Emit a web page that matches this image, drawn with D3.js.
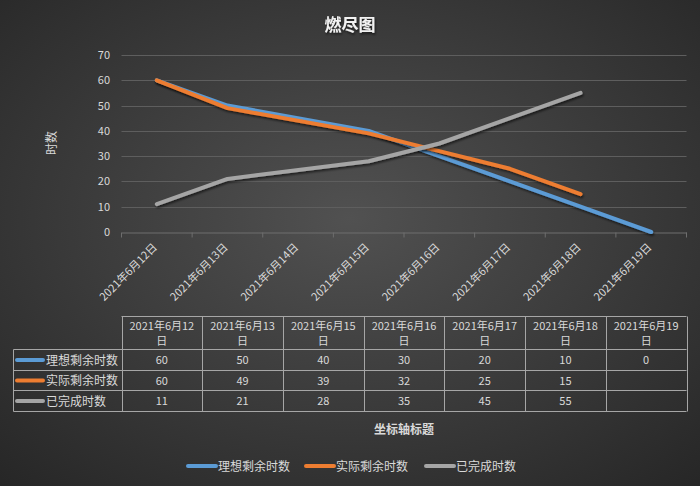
<!DOCTYPE html>
<html>
<head>
<meta charset="utf-8">
<script src="https://cdn.jsdelivr.net/npm/d3@7"></script>
<style>
  body { margin: 0; background: #2b2b2b; }
  svg text { font-family: "Noto Sans CJK SC", "Noto Sans", sans-serif; fill: #d9d9d9; }
</style>
</head>
<body>
<svg id="chart" width="700" height="486"></svg>
<script>
const axisDays = ["2021年6月12日", "2021年6月13日", "2021年6月14日", "2021年6月15日",
  "2021年6月16日", "2021年6月17日", "2021年6月18日", "2021年6月19日"];
const tableDays = ["2021年6月12日", "2021年6月13日", "2021年6月15日", "2021年6月16日",
  "2021年6月17日", "2021年6月18日", "2021年6月19日"];
const ideal = [60, 50, 40, 30, 20, 10, 0];
const actual = [60, 49, 39, 32, 25, 15, null];
const done = [11, 21, 28, 35, 45, 55, null];
const yTicks = [0, 10, 20, 30, 40, 50, 60, 70];

const seriesList = [
  { name: "理想剩余时数", values: ideal, color: "#5b9bd5" },
  { name: "实际剩余时数", values: actual, color: "#ed7d31" },
  { name: "已完成时数", values: done, color: "#a5a5a5" }
];

const PLOT = { left: 121.5, right: 686.5, top: 55, bottom: 232 };

const svg = d3.select("#chart");
const defs = svg.append("defs");

const grad = defs.append("radialGradient")
  .attr("id", "bg")
  .attr("cx", "50%").attr("cy", "45%").attr("r", "75%");
grad.append("stop").attr("offset", "0%").attr("stop-color", "#515151");
grad.append("stop").attr("offset", "100%").attr("stop-color", "#262626");

const shadow = defs.append("filter").attr("id", "shadow")
  .attr("x", "-10%").attr("y", "-10%").attr("width", "120%").attr("height", "130%");
shadow.append("feDropShadow")
  .attr("dx", 1).attr("dy", 2).attr("stdDeviation", 1.2)
  .attr("flood-color", "#000").attr("flood-opacity", 0.55);

svg.append("rect").attr("width", 700).attr("height", 486).attr("fill", "url(#bg)");

// title
svg.append("text")
  .attr("x", 350).attr("y", 31)
  .attr("text-anchor", "middle")
  .attr("font-size", 17).attr("font-weight", "bold")
  .style("fill", "#f2f2f2")
  .attr("filter", "url(#shadow)")
  .text("燃尽图");

const x = d3.scaleBand().domain(axisDays).range([PLOT.left, PLOT.right]);
const y = d3.scaleLinear().domain([0, 70]).range([PLOT.bottom, PLOT.top]);

// gridlines
svg.append("g").selectAll("line")
  .data(yTicks.filter(d => d > 0))
  .join("line")
  .attr("x1", PLOT.left).attr("x2", PLOT.right)
  .attr("y1", d => Math.round(y(d)) + 0.5).attr("y2", d => Math.round(y(d)) + 0.5)
  .attr("stroke", "#5e5e5e").attr("stroke-width", 1);

// y axis labels
svg.append("g").selectAll("text")
  .data(yTicks)
  .join("text")
  .attr("x", 110).attr("y", d => y(d) + 4)
  .attr("text-anchor", "end")
  .attr("font-size", 11)
  .text(d => d);

svg.append("text")
  .attr("transform", `translate(56,143) rotate(-90)`)
  .attr("text-anchor", "middle")
  .attr("font-size", 12)
  .text("时数");

// x axis
const xAxis = svg.append("g")
  .attr("transform", `translate(0,${Math.round(PLOT.bottom) + 0.5})`)
  .call(d3.axisBottom(x).tickSize(5).tickSizeOuter(0).tickFormat(""));
xAxis.select(".domain").attr("stroke", "#6e6e6e");
xAxis.selectAll(".tick line").remove();
xAxis.selectAll(".band-tick")
  .data(axisDays.concat(["end"]))
  .join("line")
  .attr("x1", (d, i) => i < axisDays.length ? x(d) : PLOT.right)
  .attr("x2", (d, i) => i < axisDays.length ? x(d) : PLOT.right)
  .attr("y1", 0).attr("y2", 5)
  .attr("stroke", "#6e6e6e");

svg.append("g").selectAll("text")
  .data(axisDays)
  .join("text")
  .attr("transform", d => `translate(${x(d) + x.bandwidth() / 2 + 1},${PLOT.bottom + 16}) rotate(-45)`)
  .attr("text-anchor", "end")
  .attr("font-size", 11)
  .text(d => d);

// lines
const line = d3.line()
  .defined(d => d.v !== null)
  .x(d => x(d.day) + x.bandwidth() / 2)
  .y(d => y(d.v));

svg.append("g").selectAll("path")
  .data(seriesList)
  .join("path")
  .attr("d", s => line(s.values.map((v, i) => ({ day: tableDays[i], v }))))
  .attr("fill", "none")
  .attr("stroke", s => s.color)
  .attr("stroke-width", 4)
  .attr("stroke-linecap", "round")
  .attr("stroke-linejoin", "round")
  .attr("filter", "url(#shadow)");

// data table
const TABLE = { left: 13.5, colLeft: 121.5, right: 686.5, rows: [316.5, 349.5, 370.5, 390.5, 411.5] };
const colW = (TABLE.right - TABLE.colLeft) / tableDays.length;
const tbl = svg.append("g");
const border = "#a6a6a6";

TABLE.rows.forEach((ry, i) => {
  tbl.append("line")
    .attr("x1", i === 0 ? TABLE.colLeft : TABLE.left).attr("x2", TABLE.right)
    .attr("y1", ry).attr("y2", ry)
    .attr("stroke", border);
});
tbl.append("line")
  .attr("x1", TABLE.left).attr("x2", TABLE.left)
  .attr("y1", TABLE.rows[1]).attr("y2", TABLE.rows[4]).attr("stroke", border);
d3.range(tableDays.length + 1).forEach(i => {
  const cx = Math.round(TABLE.colLeft + i * colW) + 0.5;
  tbl.append("line")
    .attr("x1", cx).attr("x2", cx)
    .attr("y1", TABLE.rows[0]).attr("y2", TABLE.rows[4]).attr("stroke", border);
});

tableDays.forEach((d, i) => {
  const cx = TABLE.colLeft + (i + 0.5) * colW;
  const t = tbl.append("text").attr("text-anchor", "middle").attr("font-size", 11);
  t.append("tspan").attr("x", cx).attr("y", 330).text(d.slice(0, -1));
  t.append("tspan").attr("x", cx).attr("y", 345).text("日");
});

seriesList.forEach((s, r) => {
  const top = TABLE.rows[r + 1], bot = TABLE.rows[r + 2];
  const cy = (top + bot) / 2;
  tbl.append("line")
    .attr("x1", 17).attr("x2", 43).attr("y1", cy).attr("y2", cy)
    .attr("stroke", s.color).attr("stroke-width", 4).attr("stroke-linecap", "round");
  tbl.append("text")
    .attr("x", 46).attr("y", cy + 4.5)
    .attr("font-size", 12)
    .text(s.name);
  s.values.forEach((v, i) => {
    if (v === null) return;
    tbl.append("text")
      .attr("x", TABLE.colLeft + (i + 0.5) * colW).attr("y", cy + 4)
      .attr("text-anchor", "middle")
      .attr("font-size", 11)
      .text(v);
  });
});

svg.append("text")
  .attr("x", (PLOT.left + PLOT.right) / 2).attr("y", 434)
  .attr("text-anchor", "middle")
  .attr("font-size", 12).attr("font-weight", "bold")
  .text("坐标轴标题");

// legend
const legendX = [188, 306, 426];
const legend = svg.append("g");
seriesList.forEach((s, i) => {
  legend.append("line")
    .attr("x1", legendX[i]).attr("x2", legendX[i] + 28)
    .attr("y1", 466).attr("y2", 466)
    .attr("stroke", s.color).attr("stroke-width", 4).attr("stroke-linecap", "round");
  legend.append("text")
    .attr("x", legendX[i] + 30).attr("y", 470.5)
    .attr("font-size", 12)
    .text(s.name);
});
</script>
</body>
</html>
